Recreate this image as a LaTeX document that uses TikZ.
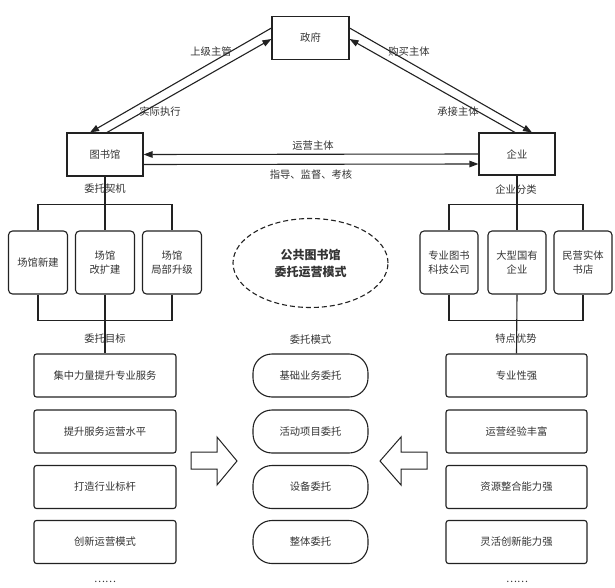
\documentclass[tikz,border=0pt]{standalone}
\usepackage{fontspec}
\setmainfont{Noto Sans CJK SC}
\usetikzlibrary{arrows.meta,shapes.geometric}
\definecolor{textc}{HTML}{333333}
\definecolor{linec}{HTML}{222222}
\begin{document}
\begin{tikzpicture}[x=1pt,y=-1pt,
  txt/.style={font=\fontsize{10.3}{14}\selectfont, text=textc},
  box/.style={draw=linec, line width=1.1pt, inner sep=0pt, align=center, txt},
  sq/.style={box, minimum width=77pt, minimum height=43pt},
  smallbox/.style={box, rounded corners=4pt, minimum width=59pt, minimum height=63pt},
  itembox/.style={box, rounded corners=2.5pt, minimum width=142pt, minimum height=43pt},
  pill/.style={box, rounded corners=19pt, minimum width=115pt, minimum height=43pt},
  lab/.style={txt, inner sep=0pt},
  con/.style={draw=linec, line width=1.1pt},
  arr/.style={con, -{Triangle[length=9pt,width=6.5pt]}},
]
\fill[white] (0,0) rectangle (615,588);
\useasboundingbox (0,0) rectangle (615,588);

% top triangle
\node[sq] (gov) at (310.5,38) {政府};
\node[sq, minimum width=76pt] (lib) at (105,154.5) {图书馆};
\node[sq, minimum width=76pt, minimum height=42pt] (ent) at (517,154) {企业};

\draw[arr] ([yshift=10pt]gov.west) -- ([xshift=-15pt]lib.north);
\draw[arr] ([xshift=2pt]lib.north) -- ([yshift=-1pt]gov.west);
\draw[arr] ([yshift=10pt]gov.east) -- ([xshift=15pt]ent.north);
\draw[arr] ([xshift=-2pt]ent.north) -- ([yshift=-1pt]gov.east);

\draw[arr] (ent.west) -- (lib.east);
\draw[arr] ([yshift=-10pt]lib.east) -- ([yshift=-10pt]ent.west);

\node[lab] (t1) at (211,52) {上级主管};
\node[lab] (t2) at (160,112) {实际执行};
\node[lab] (t3) at (409,52) {购买主体};
\node[lab] (t4) at (458,112) {承接主体};
\node[lab] (t5) at (313,146) {运营主体};
\node[lab] (t6) at (311,175) {指导、监督、考核};

% left group
\node[smallbox] (l1) at (38,262.5) {场馆新建};
\node[smallbox] (l2) at (105,262.5) {场馆\\改扩建};
\node[smallbox] (l3) at (172,262.5) {场馆\\局部升级};
\draw[con] (l1.north) -- ++(0,-26) -| (l3.north);
\draw[con] (lib.south) -- (l2.north);
\draw[con] (l1.south) -- ++(0,26) -| (l3.south);
\node[lab] (lq1) at (105,189) {委托契机};
\node[lab] (lq2) at (105,339) {委托目标};

% right group
\node[smallbox, minimum width=58pt] (r1) at (449,262.5) {专业图书\\科技公司};
\node[smallbox, minimum width=58pt] (r2) at (517,262.5) {大型国有\\企业};
\node[smallbox, minimum width=58pt] (r3) at (583,262.5) {民营实体\\书店};
\draw[con] (r1.north) -- ++(0,-26) -| (r3.north);
\draw[con] (ent.south) -- (r2.north);
\draw[con] (r1.south) -- ++(0,26) -| (r3.south);
\node[lab] (rq1) at (516,190) {企业分类};
\node[lab] (rq2) at (516,339) {特点优势};

% center ellipse
\node[ellipse, draw=linec, line width=1.1pt, dash pattern=on 5pt off 3pt,
  minimum width=155pt, minimum height=89pt, inner sep=0pt, align=center,
  font=\fontsize{12}{17}\selectfont\bfseries, text=textc] (ell) at (310.5,263) {公共图书馆\\委托运营模式};
\node[lab] (mq) at (310.5,340) {委托模式};

% goals
\node[itembox] (g1) at (105,375.5) {集中力量提升专业服务};
\node[itembox] (g2) at (105,431.5) {提升服务运营水平};
\node[itembox] (g3) at (105,487) {打造行业标杆};
\node[itembox] (g4) at (105,542) {创新运营模式};
\draw[con] (l2.south) -- (g1.north);
\node[lab] (gd) at (105,582) {……};

% modes
\node[pill] (m1) at (310.5,375.5) {基础业务委托};
\node[pill] (m2) at (310.5,431.5) {活动项目委托};
\node[pill] (m3) at (310.5,487) {设备委托};
\node[pill] (m4) at (310.5,542) {整体委托};

% features
\node[itembox, minimum width=141pt] (f1) at (516.5,375.5) {专业性强};
\node[itembox, minimum width=141pt] (f2) at (516.5,431.5) {运营经验丰富};
\node[itembox, minimum width=141pt] (f3) at (516.5,487) {资源整合能力强};
\node[itembox, minimum width=141pt] (f4) at (516.5,542) {灵活创新能力强};
\draw[con] (r2.south) -- (f1.north);
\node[lab] (fd) at (517,582) {……};

% block arrows
\draw[con, fill=white, line width=1pt] (191,452) -- (217,452) -- (217,437) -- (237,461) -- (217,485) -- (217,469) -- (191,469) -- cycle;
\draw[con, fill=white, line width=1pt] (427,452) -- (401,452) -- (401,437) -- (380,461) -- (401,485) -- (401,469) -- (427,469) -- cycle;
\end{tikzpicture}
\end{document}
